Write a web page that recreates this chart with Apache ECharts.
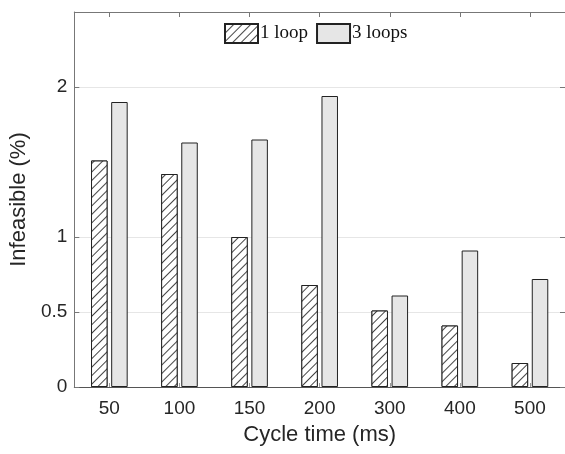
<!DOCTYPE html>
<html>
<head>
<meta charset="utf-8">
<script src="https://cdn.jsdelivr.net/npm/echarts@6/dist/echarts.min.js"></script>
<style>html,body{margin:0;padding:0;background:#fff}#c{width:565px;height:454px}</style>
</head>
<body>
<div id="c"></div>
<script>
const categories = ['50', '100', '150', '200', '300', '400', '500'];
const oneLoop = [1.51, 1.42, 1.0, 0.68, 0.51, 0.41, 0.16];
const threeLoops = [1.90, 1.63, 1.65, 1.94, 0.61, 0.91, 0.72];
const yTicks = [0, 0.5, 1, 2];
const seriesNames = ['1 loop', '3 loops'];

const chart = echarts.init(document.getElementById('c'), null, {renderer: 'canvas'});
const sans = 'Liberation Sans';
const axisCol = '#777';
chart.setOption({
  animation: false,
  backgroundColor: '#fff',
  grid: {left: 74, right: -4, top: 12, bottom: 67, containLabel: false},
  legend: {
    top: 18, left: 219, icon: 'rect',
    itemWidth: 33, itemHeight: 19, itemGap: 8,
    textStyle: {fontFamily: 'Liberation Serif', fontSize: 19, color: '#111', padding: [0, 0, 0, -3]},
    data: seriesNames
  },
  xAxis: [{
    type: 'category', data: categories, position: 'bottom',
    axisLine: {show: true, lineStyle: {color: '#555', width: 1}},
    axisTick: {show: true, inside: true, alignWithLabel: true, length: 4, lineStyle: {color: '#999'}},
    axisLabel: {fontFamily: sans, fontSize: 19, color: '#262626', margin: 12},
    name: 'Cycle time (ms)', nameLocation: 'middle', nameGap: 37,
    nameTextStyle: {fontFamily: sans, fontSize: 22, color: '#262626'}
  }, {
    type: 'category', data: categories, position: 'top',
    axisLine: {show: true, onZero: false, lineStyle: {color: axisCol, width: 1}},
    axisTick: {show: true, inside: true, alignWithLabel: true, length: 5, lineStyle: {color: axisCol}},
    axisLabel: {show: false}
  }],
  yAxis: [{
    type: 'value', min: 0, max: 2.5, position: 'left',
    axisLine: {show: true, lineStyle: {color: axisCol, width: 1}},
    axisTick: {show: true, inside: true, length: 5, customValues: yTicks, lineStyle: {color: axisCol}},
    axisLabel: {customValues: yTicks, fontFamily: sans, fontSize: 19, color: '#262626', margin: 7},
    splitLine: {show: true, lineStyle: {color: '#e6e6e6', width: 1}},
    name: 'Infeasible (%)', nameLocation: 'middle', nameGap: 36,
    nameTextStyle: {fontFamily: sans, fontSize: 22, color: '#262626'}
  }, {
    type: 'value', min: 0, max: 2.5, position: 'right',
    axisLine: {show: true, lineStyle: {color: axisCol, width: 1}},
    axisTick: {show: true, inside: true, length: 5, customValues: yTicks, lineStyle: {color: axisCol}},
    axisLabel: {show: false},
    splitLine: {show: false}
  }],
  series: [{
    name: seriesNames[0], type: 'bar', data: oneLoop,
    barWidth: 16.5, barGap: '22%',
    itemStyle: {
      color: '#ffffff', borderColor: '#222', borderWidth: 1,
      decal: {symbol: 'rect', symbolSize: 1, color: '#444', backgroundColor: '#ffffff',
              dashArrayX: [1, 0], dashArrayY: [1, 5], rotation: -Math.PI / 4}
    }
  }, {
    name: seriesNames[1], type: 'bar', data: threeLoops,
    barWidth: 16.5, barGap: '22%',
    itemStyle: {color: '#e6e6e6', borderColor: '#222', borderWidth: 1}
  }]
});
</script>
</body>
</html>
